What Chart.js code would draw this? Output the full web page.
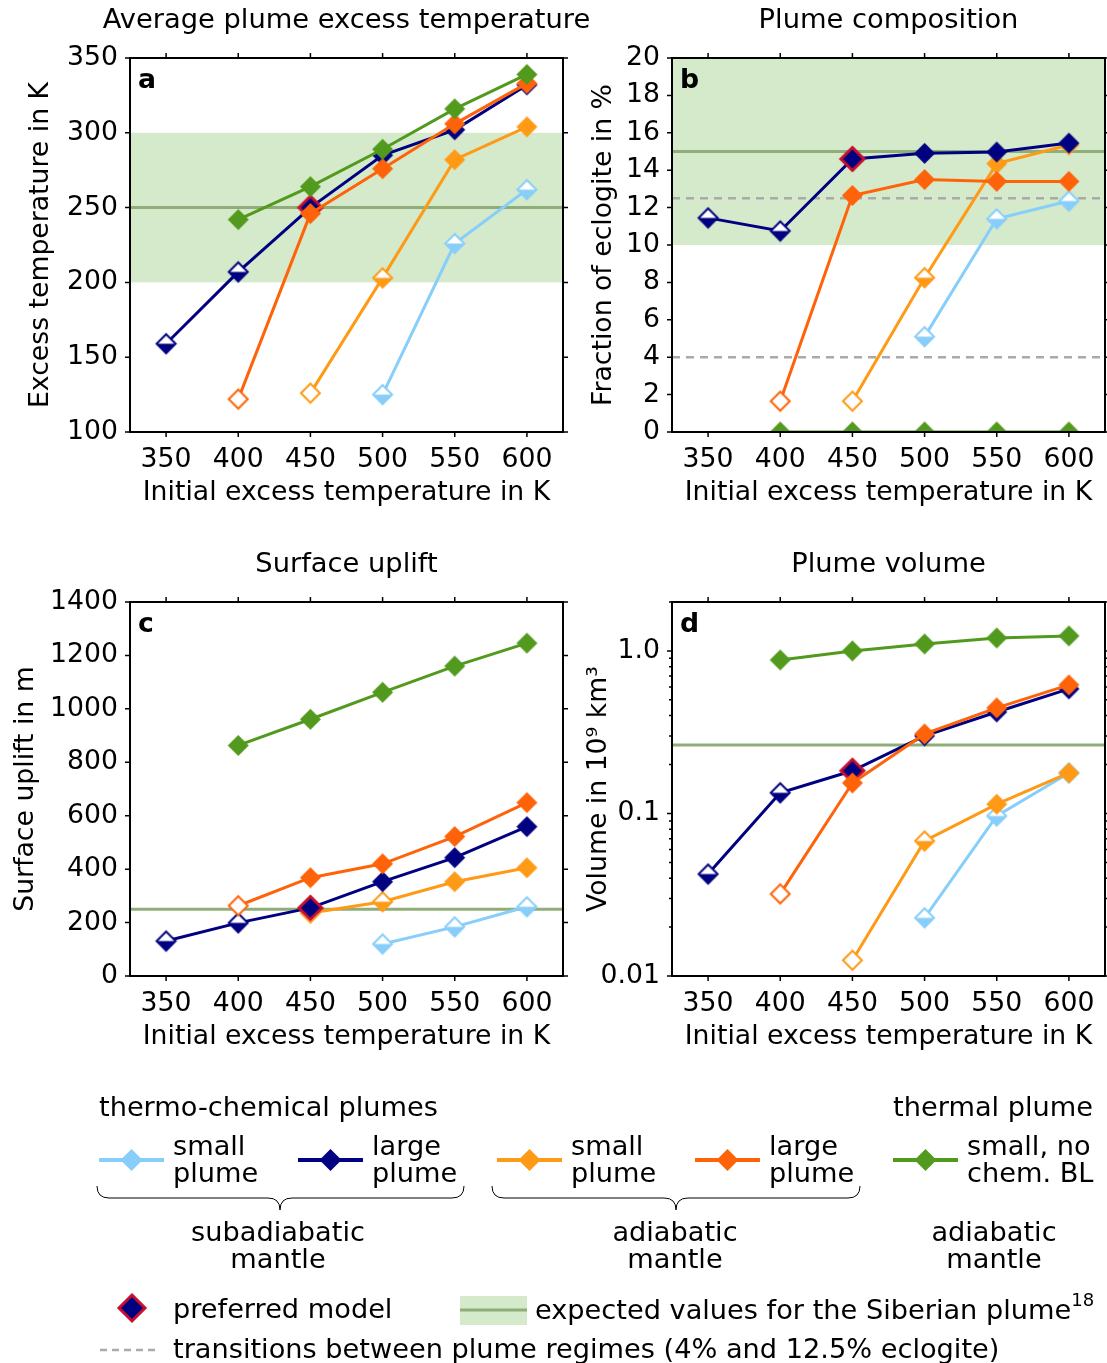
<!DOCTYPE html>
<html>
<head>
<meta charset="utf-8">
<script src="https://cdn.jsdelivr.net/npm/chart.js@4.4.1/dist/chart.umd.min.js"></script>
<style>
  body { margin: 0; background: #fff; width: 1107px; height: 1363px; position: relative; overflow: hidden; font-family: 'DejaVu Sans', sans-serif; }
  canvas { position: absolute; }
  svg { position: absolute; left: 0; top: 0; }
  svg text { font-family: 'DejaVu Sans', sans-serif; font-size: 27.2px; fill: #000; }
</style>
</head>
<body>
<canvas id="panelA" width="600" height="520" style="left:0;top:0"></canvas>
<canvas id="panelB" width="537" height="520" style="left:570px;top:0"></canvas>
<canvas id="panelC" width="600" height="520" style="left:0;top:544px"></canvas>
<canvas id="panelD" width="537" height="520" style="left:570px;top:544px"></canvas>

<svg width="1107" height="1363" id="legend">
  <text x="99" y="1106" dominant-baseline="central">thermo-chemical plumes</text>
  <text x="1093" y="1106" text-anchor="end" dominant-baseline="central">thermal plume</text>

  <g id="legendItems"></g>

  <path d="M97,1186 Q97,1198 109,1198 L268,1198 Q280,1198 280,1210 Q280,1198 292,1198 L452,1198 Q464,1198 464,1186" fill="none" stroke="#000" stroke-width="1"/>
  <path d="M492,1186 Q492,1198 504,1198 L664,1198 Q676,1198 676,1210 Q676,1198 688,1198 L848,1198 Q860,1198 860,1186" fill="none" stroke="#000" stroke-width="1"/>

  <text x="278" y="1231" text-anchor="middle" dominant-baseline="central">subadiabatic</text>
  <text x="278" y="1258" text-anchor="middle" dominant-baseline="central">mantle</text>
  <text x="675" y="1231" text-anchor="middle" dominant-baseline="central">adiabatic</text>
  <text x="675" y="1258" text-anchor="middle" dominant-baseline="central">mantle</text>
  <text x="994" y="1231" text-anchor="middle" dominant-baseline="central">adiabatic</text>
  <text x="994" y="1258" text-anchor="middle" dominant-baseline="central">mantle</text>

  <path d="M132,1295 L145,1308 L132,1321 L119,1308 Z" fill="#000080" stroke="#c8102e" stroke-width="3"/>
  <text x="173" y="1308" dominant-baseline="central">preferred model</text>

  <rect x="460" y="1296" width="67" height="29" fill="#d4eacb"/>
  <line x1="460" y1="1310" x2="527" y2="1310" stroke="#8fad78" stroke-width="3"/>
  <text x="535" y="1309" dominant-baseline="central">expected values for the Siberian plume<tspan dy="-10" font-size="18">18</tspan></text>

  <line x1="100" y1="1350" x2="160" y2="1350" stroke="#aaaaaa" stroke-width="2.5" stroke-dasharray="7,5"/>
  <text x="173" y="1348" dominant-baseline="central">transitions between plume regimes (4% and 12.5% eclogite)</text>
</svg>

<script>
// initial excess temperature (K) - x categories
const temps = [350, 400, 450, 500, 550, 600]
const xTicks = [350, 400, 450, 500, 550, 600]

// a: average plume excess temperature in K
const tempSmallSub = [null, null, null, 125, 226, 262]
const tempLargeSub = [159, 207, 250, 285, 302, 332]
const tempSmallAd = [null, null, 126, 203, 282, 304]
const tempLargeAd = [null, 122, 246, 276, 306, 333]
const tempThermal = [null, 242, 264, 289, 316, 339]

// b: fraction of eclogite in %
const eclSmallSub = [null, null, null, 5.1, 11.4, 12.35]
const eclLargeSub = [11.45, 10.75, 14.6, 14.9, 14.97, 15.45]
const eclSmallAd = [null, null, 1.65, 8.25, 14.35, 15.35]
const eclLargeAd = [null, 1.65, 12.65, 13.5, 13.4, 13.4]
const eclThermal = [null, 0, 0, 0, 0, 0]

// c: surface uplift in m
const upSmallSub = [null, null, null, 120, 184, 259]
const upLargeSub = [131, 199, 255, 353, 443, 559]
const upSmallAd = [null, null, 236, 278, 353, 405]
const upLargeAd = [null, 263, 368, 420, 522, 649]
const upThermal = [null, 863, 961, 1062, 1160, 1246]

// d: plume volume in 10^9 km^3
const volSmallSub = [null, null, null, 0.0228, 0.0965, 0.1775]
const volLargeSub = [0.0424, 0.134, 0.183, 0.30, 0.421, 0.584]
const volSmallAd = [null, null, 0.0125, 0.0677, 0.114, 0.1775]
const volLargeAd = [null, 0.032, 0.154, 0.3085, 0.446, 0.618]
const volThermal = [null, 0.88, 1.0, 1.104, 1.202, 1.237]

// expected values for the Siberian plume
const siberianTemp = [200, 250, 300]
const siberianEcl = [10, 15, 20]
const siberianUplift = 250
const siberianVolume = 0.264
const regimeTransitions = [4, 12.5]

// tick labels
const yTicksA = [100, 150, 200, 250, 300, 350]
const yTicksB = [0, 2, 4, 6, 8, 10, 12, 14, 16, 18, 20]
const yTicksC = [0, 200, 400, 600, 800, 1000, 1200, 1400]
const yTicksD = [0.01, 0.1, 1]
const yLabelsD = ['0.01', '0.1', '1.0']

// marker kind per model (half = open top / filled bottom)
const kindSmallSub = [null, null, null, 'half', 'half', 'half']
const kindLargeSub = ['half', 'half', 'pref', 'full', 'full', 'full']
const kindSmallAd = [null, null, 'open', 'half', 'full', 'full']
const kindLargeAd = [null, 'open', 'full', 'full', 'full', 'full']
const kindThermal = [null, 'full', 'full', 'full', 'full', 'full']

const colLightBlue = '#87cefa'
const colNavy = '#000080'
const colOrange = '#ff9a16'
const colRed = '#ff6309'
const colGreen = '#529a1e'
const colBand = '#d4eacb'
const colSib = '#8fad78'
const colPref = '#c8102e'

const font = { family: 'DejaVu Sans', size: 26.7 }

const markerCache = {}
function markerImg(color, kind){
    const key = color + kind
    if(markerCache[key]) return markerCache[key]
    const r = kind == 'pref' ? 13 : 10.5
    const size = Math.ceil(2 * r + 6)
    const c = document.createElement('canvas')
    c.width = size
    c.height = size
    const g = c.getContext('2d')
    const m = size / 2
    const diamond = (rr) => {
        g.beginPath()
        g.moveTo(m, m - rr); g.lineTo(m + rr, m); g.lineTo(m, m + rr); g.lineTo(m - rr, m)
        g.closePath()
    }
    if(kind == 'full'){
        diamond(r); g.fillStyle = color; g.fill()
    } else if(kind == 'pref'){
        diamond(r - 1.5); g.fillStyle = color; g.fill()
        g.lineWidth = 3; g.strokeStyle = colPref; g.lineJoin = 'miter'; g.stroke()
    } else {
        const ri = r - 1
        diamond(ri); g.fillStyle = '#fff'; g.fill()
        if(kind == 'half'){
            g.beginPath()
            g.moveTo(m - ri, m); g.lineTo(m + ri, m); g.lineTo(m, m + ri); g.closePath()
            g.fillStyle = color; g.fill()
        }
        diamond(ri); g.lineWidth = 2; g.strokeStyle = color; g.stroke()
    }
    markerCache[key] = c
    return c
}

function makeSeries(values, color, kinds, order){
    return {
        data: values,
        borderColor: color,
        backgroundColor: color,
        borderWidth: 3,
        pointRadius: 10,
        pointHoverRadius: 10,
        pointStyle: (ctx) => markerImg(color, kinds[ctx.dataIndex] || 'full'),
        order: order
    }
}

const panelPlugin = {
    id: 'panel',
    beforeDatasetsDraw(chart, args, opts){
        const { ctx, chartArea: ca } = chart
        const y = chart.scales.y
        ctx.save()
        if(opts.band){
            const top = Math.max(ca.top, y.getPixelForValue(opts.band[1]))
            const bot = y.getPixelForValue(opts.band[0])
            ctx.fillStyle = colBand
            ctx.fillRect(ca.left, top, ca.right - ca.left, bot - top)
        }
        for(const v of (opts.dashed || [])){
            const py = y.getPixelForValue(v)
            ctx.strokeStyle = '#aaaaaa'
            ctx.lineWidth = 2.5
            ctx.setLineDash([8, 6])
            ctx.beginPath(); ctx.moveTo(ca.left, py); ctx.lineTo(ca.right, py); ctx.stroke()
        }
        ctx.setLineDash([])
        if(opts.line != null){
            const py = y.getPixelForValue(opts.line)
            ctx.strokeStyle = colSib
            ctx.lineWidth = 3
            ctx.beginPath(); ctx.moveTo(ca.left, py); ctx.lineTo(ca.right, py); ctx.stroke()
        }
        ctx.restore()
    },
    afterDraw(chart, args, opts){
        const { ctx, chartArea: ca } = chart
        const x = chart.scales.x, y = chart.scales.y
        ctx.save()
        ctx.strokeStyle = '#000'
        ctx.lineWidth = 1.5
        for(const t of x.ticks){
            const px = x.getPixelForValue(t.value)
            ctx.beginPath()
            ctx.moveTo(px, ca.bottom); ctx.lineTo(px, ca.bottom + 5)
            ctx.moveTo(px, ca.top); ctx.lineTo(px, ca.top - 5)
            ctx.stroke()
        }
        for(const t of y.ticks){
            const py = y.getPixelForValue(t.value)
            const len = t.minor ? 3 : 5
            ctx.beginPath()
            ctx.moveTo(ca.left, py); ctx.lineTo(ca.left - len, py)
            ctx.moveTo(ca.right, py); ctx.lineTo(ca.right + len, py)
            ctx.stroke()
        }
        ctx.lineWidth = 2
        ctx.strokeRect(ca.left, ca.top, ca.right - ca.left, ca.bottom - ca.top)
        ctx.fillStyle = '#000'
        ctx.textAlign = 'center'
        ctx.textBaseline = 'middle'
        ctx.font = '27.3px "DejaVu Sans"'
        ctx.fillText(opts.title, (ca.left + ca.right) / 2, ca.top - 37)
        ctx.textAlign = 'left'
        ctx.font = 'bold 26.7px "DejaVu Sans"'
        ctx.fillText(opts.letter, ca.left + 8, ca.top + 23)
        ctx.restore()
    }
}

function makePanel(id, cfg){
    const yScale = {
        type: cfg.log ? 'logarithmic' : 'linear',
        min: cfg.ymin,
        max: cfg.ymax,
        afterBuildTicks: (s) => {
            const ticks = cfg.yTicks.map(v => ({ value: v }))
            if(cfg.log){
                for(let d = 0.01; d < 2; d *= 10){
                    for(let k = 2; k <= 9; k++){
                        if(k * d <= cfg.ymax) ticks.push({ value: k * d, minor: true })
                    }
                }
                ticks.sort((a, b) => a.value - b.value)
            }
            s.ticks = ticks
        },
        afterFit: (s) => {
            s.width = cfg.yWidth
            s.paddingTop = 0
            s.paddingBottom = 0
        },
        grid: { display: false, drawTicks: true, tickLength: 5 },
        border: { display: false },
        ticks: {
            font: font, color: '#000', padding: 7, autoSkip: false,
            callback: (v) => {
                if(!cfg.log) return String(v)
                const i = yTicksD.findIndex(t => Math.abs(t - v) < 1e-9)
                return i >= 0 ? yLabelsD[i] : ''
            }
        },
        title: { display: true, text: cfg.ylabel, font: font, color: '#000', padding: { top: cfg.ytitlePad, bottom: 0 } }
    }
    return new Chart(document.getElementById(id), {
        type: 'line',
        data: {
            labels: temps,
            datasets: [
                makeSeries(cfg.series[0], colLightBlue, kindSmallSub, 5),
                makeSeries(cfg.series[1], colNavy, kindLargeSub, 3),
                makeSeries(cfg.series[2], colOrange, kindSmallAd, 4),
                makeSeries(cfg.series[3], colRed, kindLargeAd, 2),
                makeSeries(cfg.series[4], colGreen, kindThermal, 1)
            ]
        },
        options: {
            responsive: false,
            animation: false,
            events: [],
            layout: { autoPadding: false, padding: { top: 58, right: cfg.padRight, left: 0, bottom: 0 } },
            plugins: {
                legend: { display: false },
                tooltip: { enabled: false },
                panel: { title: cfg.title, letter: cfg.letter, band: cfg.band, line: cfg.line, dashed: cfg.dashed }
            },
            scales: {
                x: {
                    type: 'linear',
                    min: 325,
                    max: 625,
                    afterBuildTicks: (s) => { s.ticks = xTicks.map(v => ({ value: v })) },
                    afterFit: (s) => {
                        s.height = 88
                        s.paddingLeft = 0
                        s.paddingRight = 0
                    },
                    grid: { display: false, drawTicks: true, tickLength: 5 },
                    border: { display: false },
                    ticks: { font: font, color: '#000', padding: 7, autoSkip: false, maxRotation: 0 },
                    title: { display: true, text: 'Initial excess temperature in K', font: font, color: '#000', padding: { top: 0, bottom: 11 } }
                },
                y: yScale
            }
        },
        plugins: [panelPlugin]
    })
}

makePanel('panelA', {
    title: 'Average plume excess temperature', letter: 'a',
    series: [tempSmallSub, tempLargeSub, tempSmallAd, tempLargeAd, tempThermal],
    ymin: 100, ymax: 350, yTicks: yTicksA, yWidth: 130, padRight: 37,
    ylabel: 'Excess temperature in K', ytitlePad: 25,
    band: [siberianTemp[0], siberianTemp[2]], line: siberianTemp[1]
})
makePanel('panelB', {
    title: 'Plume composition', letter: 'b',
    series: [eclSmallSub, eclLargeSub, eclSmallAd, eclLargeAd, eclThermal],
    ymin: 0, ymax: 20, yTicks: yTicksB, yWidth: 102, padRight: 2,
    ylabel: 'Fraction of eclogite in %', ytitlePad: 18,
    band: [siberianEcl[0], siberianEcl[2]], line: siberianEcl[1], dashed: regimeTransitions
})
makePanel('panelC', {
    title: 'Surface uplift', letter: 'c',
    series: [upSmallSub, upLargeSub, upSmallAd, upLargeAd, upThermal],
    ymin: 0, ymax: 1400, yTicks: yTicksC, yWidth: 130, padRight: 37,
    ylabel: 'Surface uplift in m', ytitlePad: 10,
    line: siberianUplift
})
makePanel('panelD', {
    title: 'Plume volume', letter: 'd', log: true,
    series: [volSmallSub, volLargeSub, volSmallAd, volLargeAd, volThermal],
    ymin: 0.01, ymax: 2, yTicks: yTicksD, yWidth: 102, padRight: 2,
    ylabel: 'Volume in 10\u2079 km\u00b3', ytitlePad: 13,
    line: siberianVolume
})

// legend rows: line + diamond for each model
const legendModels = [
    { x: 99, color: colLightBlue, text: ['small', 'plume'] },
    { x: 298, color: colNavy, text: ['large', 'plume'] },
    { x: 497, color: colOrange, text: ['small', 'plume'] },
    { x: 695, color: colRed, text: ['large', 'plume'] },
    { x: 893, color: colGreen, text: ['small, no', 'chem. BL'] }
]
const ns = 'http://www.w3.org/2000/svg'
const g = document.getElementById('legendItems')
for(const m of legendModels){
    const line = document.createElementNS(ns, 'line')
    line.setAttribute('x1', m.x); line.setAttribute('x2', m.x + 65)
    line.setAttribute('y1', 1160); line.setAttribute('y2', 1160)
    line.setAttribute('stroke', m.color); line.setAttribute('stroke-width', 4)
    g.appendChild(line)
    const cx = m.x + 32.5
    const d = document.createElementNS(ns, 'path')
    d.setAttribute('d', `M${cx},1149 L${cx + 11},1160 L${cx},1171 L${cx - 11},1160 Z`)
    d.setAttribute('fill', m.color)
    g.appendChild(d)
    m.text.forEach((t, i) => {
        const tx = document.createElementNS(ns, 'text')
        tx.setAttribute('x', m.x + 74); tx.setAttribute('y', 1145 + i * 27)
        tx.setAttribute('dominant-baseline', 'central')
        tx.textContent = t
        g.appendChild(tx)
    })
}
</script>
</body>
</html>
